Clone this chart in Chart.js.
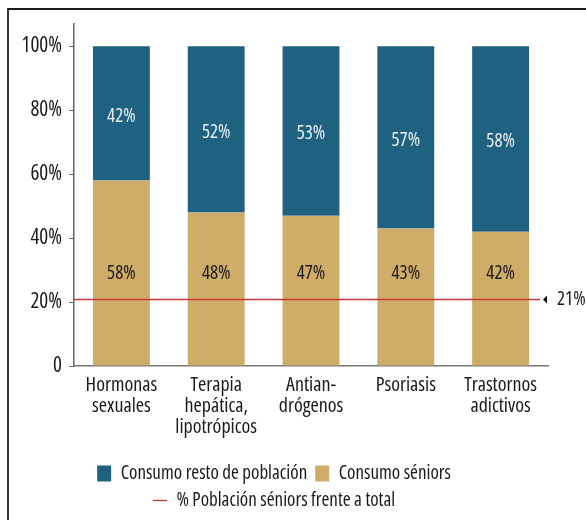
<!DOCTYPE html>
<html>
<head>
<meta charset="utf-8">
<script src="https://cdn.jsdelivr.net/npm/chart.js@4.4.1/dist/chart.umd.min.js"></script>
<style>
html, body { margin: 0; padding: 0; background: #fff; }
#wrap { position: relative; width: 586px; height: 520px; overflow: hidden; }
#frame { position: absolute; left: 7px; top: 8px; width: 640px; height: 640px; border-top: 2px solid #1b1b1b; border-left: 2px solid #333; }
canvas { position: absolute; left: 0; top: 0; }
</style>
</head>
<body>
<div id="wrap">
  <div id="frame"></div>
  <canvas id="myChart" width="586" height="520"></canvas>
</div>
<script>
// data
var categories = [["Hormonas", "sexuales"], ["Terapia", "hepática,", "lipotrópicos"], ["Antian-", "drógenos"], ["Psoriasis"], ["Trastornos", "adictivos"]];
var seniors = [58, 48, 47, 43, 42];
var resto = [42, 52, 53, 57, 58];
var seniorsShare = [21, 21, 21, 21, 21];
var yTicks = [0, 20, 40, 60, 80, 100];

// condensed face of Open Sans (the "weight" slot is only pasted into the css font string)
var FAMILY = '"Open Sans", sans-serif';
var STRETCH = 'condensed';
var BLUE = '#1f6180';
var GOLD = '#cfac67';
var RED = '#c23a3a';

// value labels + the reference line with its marker on the right
var barLabels = {
  id: 'barLabels',
  afterDatasetsDraw: function (chart) {
    var ctx = chart.ctx;
    var y = chart.scales.y;
    var area = chart.chartArea;
    ctx.save();
    ctx.font = STRETCH + ' 19px ' + FAMILY;
    ctx.textAlign = 'center';
    ctx.textBaseline = 'middle';

    ctx.fillStyle = '#e9eff2';
    chart.getDatasetMeta(1).data.forEach(function (bar, i) {
      ctx.fillText(resto[i] + '%', bar.x, (bar.y + bar.base) / 2 + 3);
    });
    ctx.fillStyle = '#1a1a1a';
    chart.getDatasetMeta(0).data.forEach(function (bar, i) {
      ctx.fillText(seniors[i] + '%', bar.x, y.getPixelForValue(29));
    });

    var ly = Math.round(y.getPixelForValue(seniorsShare[0])) + 0.5;
    ctx.strokeStyle = RED;
    ctx.lineWidth = 1.3;
    ctx.beginPath();
    ctx.moveTo(area.left, ly);
    ctx.lineTo(area.right - 8, ly);
    ctx.stroke();

    ctx.fillStyle = '#111';
    ctx.beginPath();
    ctx.moveTo(area.right - 5, ly);
    ctx.lineTo(area.right - 1, ly - 4);
    ctx.lineTo(area.right - 1, ly + 4);
    ctx.closePath();
    ctx.fill();

    ctx.fillStyle = '#1a1a1a';
    ctx.textAlign = 'left';
    ctx.fillText(seniorsShare[0] + '%', area.right + 9, ly);
    ctx.restore();
  }
};

var legendOrder = [1, 0, 2];

var ctx = document.getElementById('myChart');
var myChart = new Chart(ctx, {
  type: 'bar',
  data: {
    labels: categories,
    datasets: [{
      label: 'Consumo séniors',
      data: seniors,
      backgroundColor: GOLD,
      pointStyle: 'rect',
      barPercentage: 0.6,
      categoryPercentage: 1
    }, {
      label: 'Consumo resto de población',
      data: resto,
      backgroundColor: BLUE,
      pointStyle: 'rect',
      barPercentage: 0.6,
      categoryPercentage: 1
    }, {
      type: 'line',
      label: '% Población séniors frente a total',
      data: seniorsShare,
      stack: 'ref',
      borderColor: RED,
      backgroundColor: RED,
      borderWidth: 1.3,
      pointRadius: 0,
      pointStyle: 'line',
      showLine: false
    }]
  },
  options: {
    responsive: false,
    animation: false,
    layout: { padding: { top: 24, right: 38, left: 0, bottom: 0 } },
    plugins: {
      tooltip: { enabled: false },
      legend: {
        position: 'bottom',
        labels: {
          usePointStyle: true,
          pointStyleWidth: 14,
          boxHeight: 16,
          padding: 8,
          color: '#1a1a1a',
          font: { family: FAMILY, weight: STRETCH, size: 19 },
          sort: function (a, b) { return legendOrder.indexOf(a.datasetIndex) - legendOrder.indexOf(b.datasetIndex); }
        }
      }
    },
    scales: {
      x: {
        stacked: true,
        grid: { display: false },
        border: { display: true, color: '#777', width: 1.5 },
        afterFit: function (scale) { scale.height += 17; },
        ticks: {
          color: '#1a1a1a',
          padding: 1,
          maxRotation: 0,
          autoSkip: false,
          font: { family: FAMILY, weight: STRETCH, size: 20, lineHeight: 1.05 }
        }
      },
      y: {
        stacked: true,
        min: 0,
        max: 107,
        afterBuildTicks: function (scale) {
          scale.ticks = yTicks.map(function (v) { return { value: v }; });
        },
        afterFit: function (scale) { scale.width = 74; },
        grid: { drawOnChartArea: false, tickLength: 5, color: '#666' },
        border: { color: '#666', width: 1.5 },
        ticks: {
          color: '#1a1a1a',
          padding: 7,
          font: { family: FAMILY, weight: STRETCH, size: 21 },
          callback: function (v) { return v === 0 ? '0' : v + '%'; }
        }
      }
    }
  },
  plugins: [barLabels]
});
</script>
</body>
</html>
